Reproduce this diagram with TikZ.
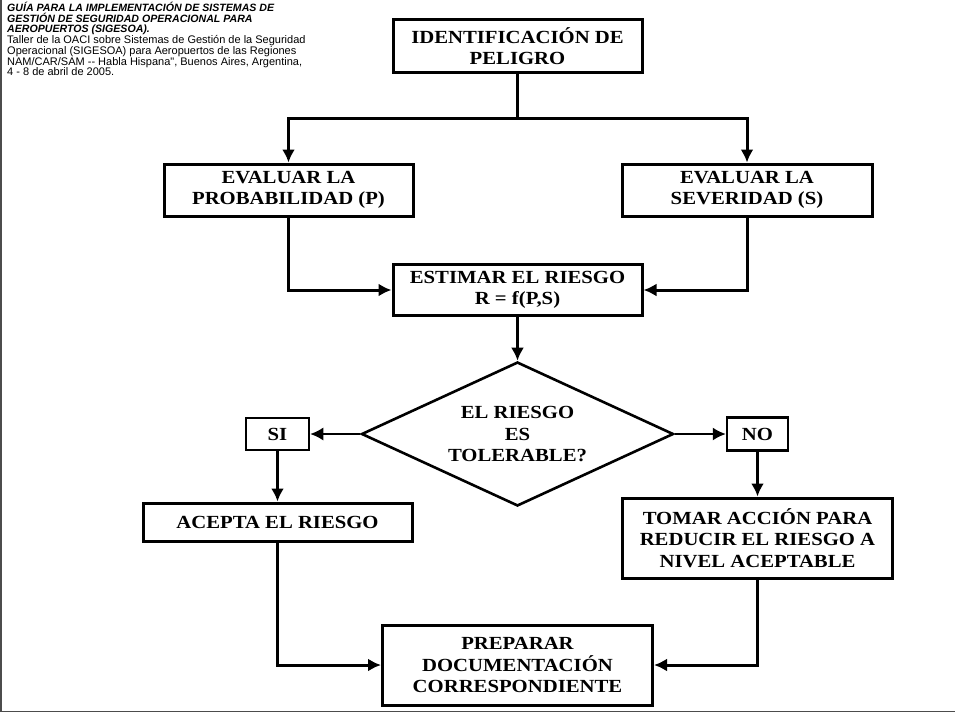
\documentclass[tikz,border=0pt]{standalone}
\usepackage{fontspec}
\setmainfont{Liberation Serif}
\newfontfamily\boxfont{Liberation Serif}[FakeStretch=1.12]
\newfontfamily\headfont{Liberation Sans}
\usetikzlibrary{shapes,arrows.meta,positioning,calc}
\tikzset{
block/.style = {draw, line width=3pt, fill=white, rectangle, align=center, inner sep=0pt,
  font=\boxfont\bfseries\fontsize{18.5}{21.5}\selectfont},
condition/.style = {draw, line width=2.6pt, fill=white, diamond, aspect=2.15, align=center, inner sep=0pt,
  minimum width=312pt, minimum height=144pt, font=\boxfont\bfseries\fontsize{18.5}{21.5}\selectfont},
answer/.style = {block, line width=2.5pt},
fork/.style = {coordinate},
line/.style = {line width=3pt},
thinline/.style = {line width=1.6pt},
}
\begin{document}
\begin{tikzpicture}[auto, node distance=144pt, >={Latex[length=13pt,width=13pt]}, x=1pt, y=1pt]
      \useasboundingbox (0,0) rectangle (955,-713);
      \draw [line width=1.5pt, black!70] (0.75,0) |- (955,-711.5);
      \node [anchor=north west, align=left, inner sep=0pt, font=\headfont\fontsize{11}{10.7}\selectfont] (fuente) at (7,-2)
         {{\bfseries\itshape\fontsize{10.6}{10.7}\selectfont GUÍA PARA LA IMPLEMENTACIÓN DE SISTEMAS DE}\\
          {\bfseries\itshape\fontsize{10.6}{10.7}\selectfont GESTIÓN DE SEGURIDAD OPERACIONAL PARA}\\
          {\bfseries\itshape\fontsize{10.6}{10.7}\selectfont AEROPUERTOS (SIGESOA).}\\
          Taller de la OACI sobre Sistemas de Gestión de la Seguridad\\
          Operacional (SIGESOA) para Aeropuertos de las Regiones\\
          NAM/CAR/SAM -- Habla Hispana", Buenos Aires, Argentina,\\
          4 - 8 de abril de 2005.};
      \node [block, minimum width=249pt, minimum height=53pt] (ident) at (517.5,-46)
         {IDENTIFICACIÓN DE\\PELIGRO};
      \node [fork, below of=ident, node distance=72pt] (split) {};
      \node [block, below of=ident, xshift=-229pt, minimum width=249pt, minimum height=52pt] (probab)
         {EVALUAR LA\\PROBABILIDAD (P)};
      \node [block, below of=ident, xshift=229.5pt, minimum width=250pt, minimum height=52pt] (sever)
         {EVALUAR LA\\SEVERIDAD (S)};
      \node [block, below of=ident, node distance=244pt, minimum width=249pt, minimum height=51pt] (estimar)
         {ESTIMAR EL RIESGO\\R = f(P,S)};
      \node [condition, below of=estimar] (tolerable) {EL RIESGO\\ES\\TOLERABLE?};
      \node [answer, left of=tolerable, node distance=240pt, minimum width=63pt, minimum height=32pt] (si) {SI};
      \node [answer, right of=tolerable, node distance=240pt, minimum width=61pt, minimum height=33pt] (no) {NO};
      \node [block, below of=si, node distance=88pt, minimum width=269pt, minimum height=38pt] (acepta)
         {ACEPTA EL RIESGO};
      \node [block, below of=no, node distance=104pt, minimum width=270pt, minimum height=80pt] (tomar)
         {TOMAR ACCIÓN PARA\\REDUCIR EL RIESGO A\\NIVEL ACEPTABLE};
      \node [block, below of=tolerable, node distance=231pt, minimum width=270pt, minimum height=80pt] (preparar)
         {PREPARAR\\DOCUMENTACIÓN\\CORRESPONDIENTE};
      \draw [line] (ident) -- (split);
      \draw [->, line] (split) -| (probab);
      \draw [->, line] (split) -| (sever);
      \draw [->, line] (probab) |- (estimar);
      \draw [->, line] (sever) |- (estimar);
      \draw [->, line] (estimar) -- (tolerable);
      \draw [->, thinline] (tolerable) -- (si);
      \draw [->, thinline] (tolerable) -- (no);
      \draw [->, line] (si) -- (acepta);
      \draw [->, line] (no) -- (tomar);
      \draw [->, line] (acepta) |- (preparar);
      \draw [->, line] (tomar) |- (preparar);
\end{tikzpicture}
\end{document}
